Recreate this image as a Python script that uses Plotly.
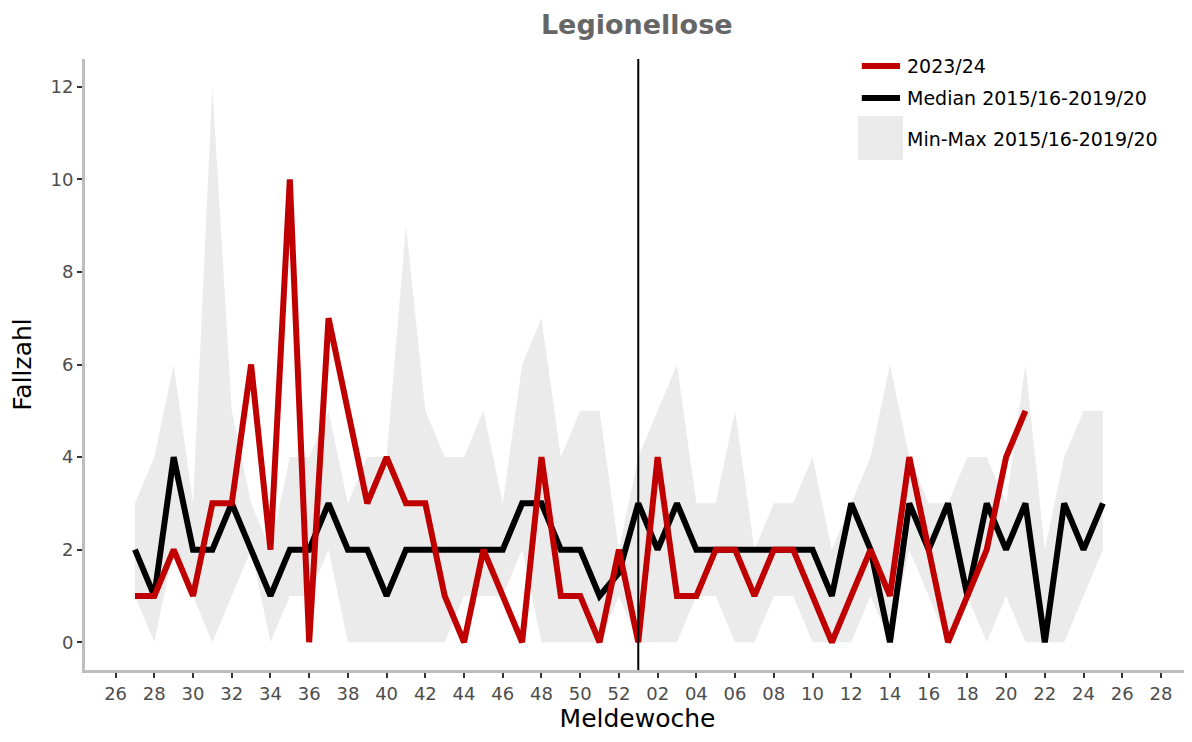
import plotly.graph_objects as go

# Season weeks: 26..52 then 01..28
weeks = list(range(26, 53)) + list(range(1, 29))
tick_text = [f"{w:02d}" for w in weeks[::2]]

# Data weeks: wk27 .. wk25 (next year)
data_weeks = weeks[1:54]

red_2023 = [1, 1, 2, 1, 3, 3, 6, 2, 10, 0, 7, 5, 3, 4, 3, 3, 1, 0, 2, 1, 0, 4, 1, 1, 0, 2,
            0, 4, 1, 1, 2, 2, 1, 2, 2, 1, 0, 1, 2, 1, 4, 2, 0, 1, 2, 4, 5]

median_15_19 = [2, 1, 4, 2, 2, 3, 2, 1, 2, 2, 3, 2, 2, 1, 2, 2, 2, 2, 2, 2, 3, 3, 2, 2, 1, 1.5,
                3, 2, 3, 2, 2, 2, 2, 2, 2, 2, 1, 3, 2, 0, 3, 2, 3, 1, 3, 2, 3, 0, 3, 2, 3]

max_15_19 = [3, 4, 6, 3, 12, 5, 3, 2, 4, 4, 5, 3, 4, 4, 9, 5, 4, 4, 5, 3, 6, 7, 4, 5, 5, 2,
             4, 5, 6, 3, 3, 5, 2, 3, 3, 4, 2, 3, 4, 6, 4, 3, 3, 4, 4, 3, 6, 2, 4, 5, 5]

min_15_19 = [1, 0, 2, 1, 0, 1, 2, 0, 1, 1, 2, 0, 0, 0, 0, 0, 0, 1, 1, 1, 2, 0, 0, 0, 0, 1,
             0, 0, 0, 1, 1, 0, 0, 1, 1, 0, 0, 0, 1, 0, 2, 1, 0, 1, 0, 1, 0, 0, 0, 1, 2]

y_ticks = [0, 2, 4, 6, 8, 10, 12]

# position of each data week on the season axis (index in `weeks`)
x_data = list(range(1, 1 + len(data_weeks)))
x_red = x_data[:len(red_2023)]
x_turn = weeks.index(1)

FONT = "DejaVu Sans"
RED = "#c00000"
GREY = "#ebebeb"
LW = 6

fig = go.Figure()
fig.add_trace(go.Scatter(x=x_data, y=min_15_19, mode="lines", line=dict(width=0),
                         showlegend=False, hoverinfo="skip"))
fig.add_trace(go.Scatter(x=x_data, y=max_15_19, mode="lines", line=dict(width=0),
                         fill="tonexty", fillcolor=GREY, name="Min-Max 2015/16-2019/20",
                         showlegend=False))
fig.add_trace(go.Scatter(x=x_data, y=median_15_19, mode="lines",
                         line=dict(color="black", width=LW), name="Median 2015/16-2019/20",
                         showlegend=False))
fig.add_trace(go.Scatter(x=x_red, y=red_2023, mode="lines",
                         line=dict(color=RED, width=LW), name="2023/24", showlegend=False))

fig.add_shape(type="line", xref="x", yref="paper", x0=x_turn, x1=x_turn, y0=0, y1=1,
              line=dict(color="black", width=2))

# manual legend
fig.add_shape(type="line", xref="paper", yref="paper", x0=0.703, x1=0.7376, y0=0.9885, y1=0.9885,
              line=dict(color=RED, width=LW))
fig.add_shape(type="line", xref="paper", yref="paper", x0=0.703, x1=0.7376, y0=0.936, y1=0.936,
              line=dict(color="black", width=LW))
fig.add_shape(type="rect", xref="paper", yref="paper", x0=0.6995, x1=0.7403, y0=0.8347, y1=0.9067,
              line=dict(width=0), fillcolor=GREY)
for txt, yy in [("2023/24", 0.9885), ("Median 2015/16-2019/20", 0.936),
                ("Min-Max 2015/16-2019/20", 0.869)]:
    fig.add_annotation(text=txt, xref="paper", yref="paper", x=0.742, y=yy,
                       xanchor="left", yanchor="middle", showarrow=False,
                       font=dict(family=FONT, size=19, color="black"))

fig.update_layout(
    width=1184, height=734,
    margin=dict(l=77, r=2, t=51, b=72),
    plot_bgcolor="white", paper_bgcolor="white",
    font=dict(family=FONT),
    title=dict(text="<b>Legionellose</b>", x=0.531, xanchor="center",
               y=0.977, yanchor="middle",
               font=dict(family=FONT, size=27, color="#666666")),
    showlegend=False,
)
fig.update_xaxes(
    range=[-1.58, 55.5], tickmode="array", tickvals=list(range(0, len(weeks), 2)),
    ticktext=tick_text, showgrid=False, zeroline=False,
    showline=True, linecolor="#bdbdbd", linewidth=3,
    ticks="outside", ticklen=5, tickwidth=2, tickcolor="#333333",
    tickfont=dict(family=FONT, size=18, color="#4d4d4d"),
    title=dict(text="Meldewoche", font=dict(family=FONT, size=25, color="black"), standoff=3),
)
fig.update_yaxes(
    range=[-0.6, 12.6], tickvals=y_ticks, showgrid=False, zeroline=False,
    showline=True, linecolor="#bdbdbd", linewidth=3,
    ticks="outside", ticklen=5, tickwidth=2, tickcolor="#333333",
    tickfont=dict(family=FONT, size=18, color="#4d4d4d"),
    title=dict(text="Fallzahl", font=dict(family=FONT, size=25, color="black"), standoff=12),
)

fig.write_html("out.html")
